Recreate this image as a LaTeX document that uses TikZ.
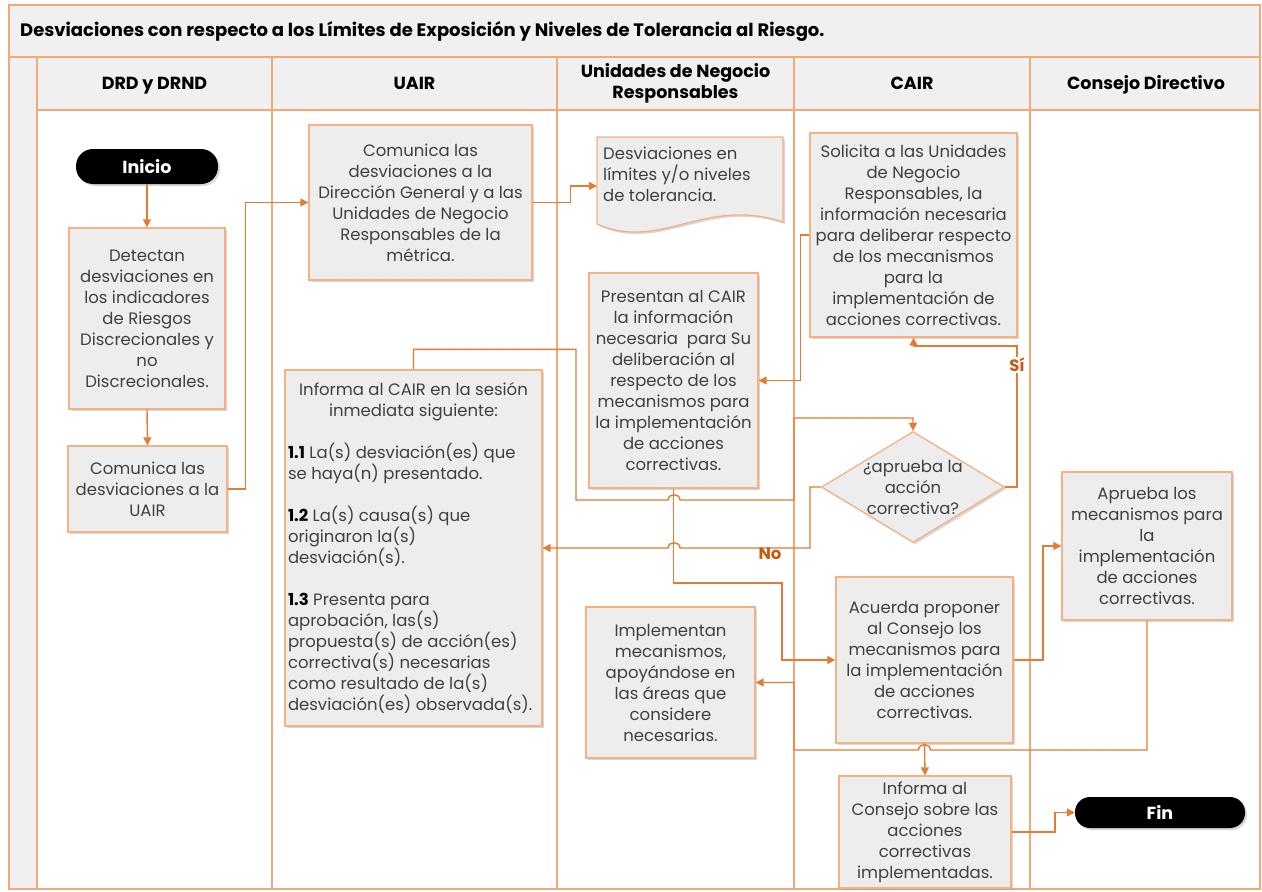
\documentclass[tikz,border=0pt]{standalone}
\usepackage{fontspec}
\setmainfont{Poppins}
\usetikzlibrary{arrows.meta,shapes.geometric,shadows,calc}
\definecolor{laneln}{HTML}{F2A877}
\definecolor{boxln}{HTML}{F4B183}
\definecolor{arr}{HTML}{E27B36}
\definecolor{boxfl}{HTML}{EDEDED}
\definecolor{hdrfl}{HTML}{F0F0F0}
\definecolor{txt}{HTML}{404040}
\definecolor{lbl}{HTML}{C55A11}
\newcommand\boxfnt{\fontsize{16.5}{21}\selectfont}
\begin{document}
\begin{tikzpicture}[x=1pt,y=-1pt,
 shad/.style={drop shadow={shadow xshift=2pt, shadow yshift=-2pt, opacity=0.3, fill=gray}},
 proc/.style={draw=boxln, line width=1.3pt, fill=boxfl, text=txt, font=\boxfnt, align=center, inner sep=0pt, shad},
 term/.style={fill=black, rounded corners=17pt, text=white, font=\fontsize{17.5}{20}\selectfont\bfseries, inner sep=0pt, shad},
 conn/.style={draw=arr, line width=1.4pt, -{Triangle[length=8pt,width=8pt]}},
 lane/.style={draw=laneln, line width=1.4pt},
 hdr/.style={font=\fontsize{17.5}{21}\selectfont\bfseries, text=black, align=center},
 lab/.style={font=\fontsize{16.5}{18}\selectfont\bfseries, text=lbl, inner sep=1pt}
]
\useasboundingbox (0,0) rectangle (1262,892);
\fill[white] (0,0) rectangle (1262,892);
% pool frame
\fill[hdrfl] (9,5) rectangle (1260,57);
\fill[hdrfl] (9,57) rectangle (37,889);
\fill[hdrfl] (37,57) rectangle (1260,110);
\draw[lane] (9,5) rectangle (1260,889);
\draw[lane] (9,57) -- (1260,57);
\draw[lane] (37,110) -- (1260,110);
\foreach \xx in {37,272,557,794,1030} \draw[lane] (\xx,57) -- (\xx,889);
\node[font=\fontsize{18}{21}\selectfont\bfseries, text=black, anchor=west, inner sep=0pt] (title) at (20,31) {Desviaciones con respecto a los Límites de Exposición y Niveles de Tolerancia al Riesgo.};
\node[hdr, anchor=base] (h1) at (154.5,89) {DRD y DRND};
\node[hdr, anchor=base] (h2) at (414.5,89) {UAIR};
\node[hdr] (h3) at (675.5,83) {Unidades de Negocio\\Responsables};
\node[hdr, anchor=base] (h4) at (912,89) {CAIR};
\node[hdr, anchor=base] (h5) at (1146,89) {Consejo Directivo};

% nodes
\node[term, minimum width=142, minimum height=35] (inicio) at (147,166.5) {Inicio};
\node[proc, minimum width=156, minimum height=181] (detect) at (147,318.5) {Detectan\\desviaciones en\\los indicadores\\de Riesgos\\Discrecionales y\\no\\Discrecionales.};
\node[proc, minimum width=159, minimum height=86] (comuair) at (147.5,489) {Comunica las\\desviaciones a la\\UAIR};
\node[proc, minimum width=223, minimum height=155] (comdg) at (420.5,202.5) {Comunica las\\desviaciones a la\\Dirección General y a las\\Unidades de Negocio\\Responsables de la\\métrica.};
\draw[draw=boxln, line width=1.3pt, fill=boxfl, shad] (597,137) -- (783,137) -- (783,222) .. controls (705,196) and (660,252) .. (597,224) -- cycle;
\node[font=\boxfnt, text=txt, align=left, anchor=north west, inner sep=0pt] (doc) at (603,147) {Desviaciones en\\límites y/o niveles\\de tolerancia.};
\coordinate (docin) at (597,186);
\node[proc, minimum width=169, minimum height=215] (present) at (673.5,380.5) {Presentan al CAIR\\la información\\necesaria~ para Su\\deliberación al\\respecto de los\\mecanismos para\\la implementación\\de acciones\\correctivas.};
\node[proc, minimum width=207, minimum height=204] (solic) at (913.5,235) {Solicita a las Unidades\\de Negocio\\Responsables, la\\información necesaria\\para deliberar respecto\\de los mecanismos\\para la\\implementación de\\acciones correctivas.};
\node[proc, minimum width=257, minimum height=356, align=none, text width=251] (infcair) at (413.5,548) {\centering Informa al CAIR en la sesión\\inmediata siguiente:\par
\vspace{21pt}\raggedright
\textcolor{black}{\bfseries 1.1} La(s) desviación(es) que\\se haya(n) presentado.\par
\vspace{21pt}
\textcolor{black}{\bfseries 1.2} La(s) causa(s) que\\originaron la(s)\\desviación(s).\par
\vspace{21pt}
\textcolor{black}{\bfseries 1.3} Presenta para\\aprobación, las(s)\\propuesta(s) de acción(es)\\correctiva(s) necesarias\\como resultado de la(s)\\desviación(es) observada(s).};
\node[diamond, draw=boxln, line width=1.3pt, fill=boxfl, minimum width=183, minimum height=111, inner sep=0pt, shad] (dia) at (913,487) {};
\node[font=\boxfnt, text=txt, align=center, inner sep=0pt] (diatxt) at (dia.center) {¿aprueba la\\acción\\correctiva?};
\node[proc, minimum width=170, minimum height=148] (aprueba) at (1147,546) {Aprueba los\\mecanismos para\\la\\implementación\\de acciones\\correctivas.};
\node[proc, minimum width=177, minimum height=166] (acuerda) at (924.5,660) {Acuerda proponer\\al Consejo los\\mecanismos para\\la implementación\\de acciones\\correctivas.};
\node[proc, minimum width=169, minimum height=151] (implem) at (670.5,682.5) {Implementan\\mecanismos,\\apoyándose en\\las áreas que\\considere\\necesarias.};
\node[proc, minimum width=172, minimum height=112] (infcons) at (925,832) {Informa al\\Consejo sobre las\\acciones\\correctivas\\implementadas.};
\node[term, minimum width=170, minimum height=31, rounded corners=15pt] (fin) at (1160,812.5) {Fin};

% connectors
\draw[conn] (inicio.south) -- (detect.north);
\draw[conn] (detect.south) -- (comuair.north);
\draw[conn] (comuair.east) -- ++(18,0) |- (comdg.west);
\draw[conn] (comdg.east) -- ++(38,0) |- (docin);
\draw[conn] (solic.west) -- ++(-9,0) |- (present.east);
\draw[conn] (infcair.north) -- ++(0,-20) -| (576,500) -- (668,500) .. controls (668,493) and (680,493) .. (680,500) -- (794,500) -- (794,418) -| (dia.north);
\draw[conn] (present.south) -- (673.5,583) -| (782,660) -- (acuerda.west);
\draw[conn] (dia.west) -- (810,487) -- (810,548) -- (680,548) .. controls (680,541) and (668,541) .. (668,548) -- (infcair.east);
\draw[conn] (dia.east) -- (1017,487) -- (1017,346) -| (solic.south);
\draw[conn] (acuerda.east) -- (1043,660) |- (aprueba.west);
\draw[conn] (aprueba.south) -- (1147,750) -- (930.5,750) .. controls (930.5,743) and (918.5,743) .. (918.5,750) -- (794,750) |- (implem.east);
\draw[conn] (acuerda.south) -- (infcons.north);
\draw[conn] (infcons.east) -- (1055,832) |- (fin.west);

% labels
\node[lab, fill=white] (si) at (1017,365) {Sí};
\node[lab] (no) at (770,554) {No};
\end{tikzpicture}
\end{document}
